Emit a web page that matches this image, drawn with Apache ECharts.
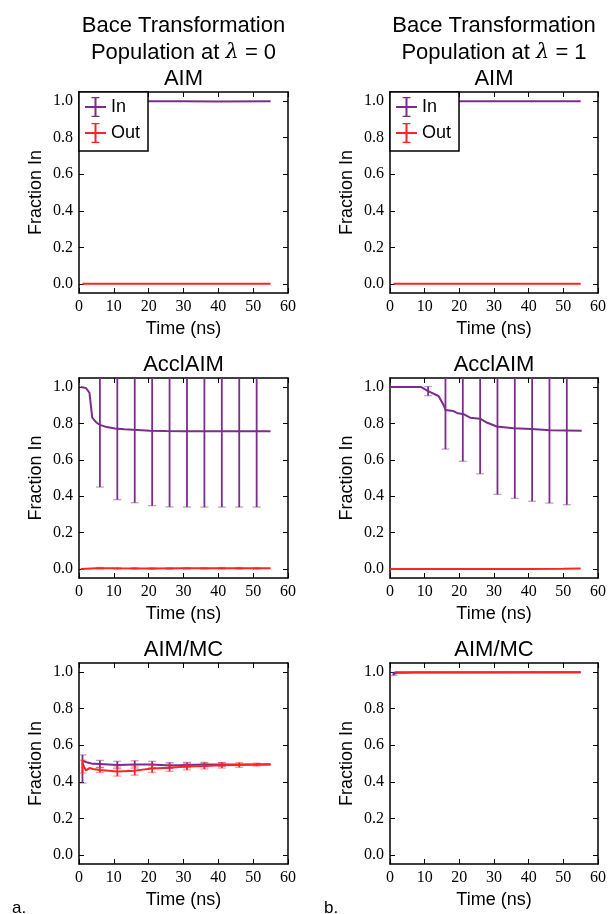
<!DOCTYPE html>
<html><head><meta charset="utf-8">
<script src="https://cdn.jsdelivr.net/npm/echarts@6/dist/echarts.min.js"></script>
<style>html,body{margin:0;padding:0;background:#fff}#c{width:610px;height:914px}</style>
</head><body><div id="c"></div>
<script>
// ---------------- data ----------------
const yTickValues = [0, 0.2, 0.4, 0.6, 0.8, 1.0];
const xTickInterval = 10;
const columnTitles = ['Population at {l|λ} = 0', 'Population at {l|λ} = 1'];
const panelTitles = ['AIM', 'AcclAIM', 'AIM/MC'];

// Row 1: AIM, lambda = 0
const aimL_in_t  = [1, 10, 20, 30, 40, 55];
const aimL_in_v  = [1.0, 1.0, 1.0, 0.999, 0.998, 0.999];
const aimL_out_t = [1, 10, 20, 30, 40, 55];
const aimL_out_v = [0, 0, 0, 0, 0, 0];
// Row 1: AIM, lambda = 1
const aimR_in_t  = [1, 10, 20, 30, 40, 55];
const aimR_in_v  = [1.0, 1.0, 0.999, 0.999, 1.0, 1.0];
const aimR_out_t = [1, 10, 20, 30, 40, 55];
const aimR_out_v = [0, 0, 0, 0, 0, 0];

// Row 2: AcclAIM, lambda = 0
const accL_in_t  = [0.5, 2, 3, 3.8, 5, 6, 8, 10.3, 13, 15.6, 20.4, 25, 30, 40, 55];
const accL_in_v  = [1.0, 0.995, 0.969, 0.832, 0.805, 0.792, 0.78, 0.772, 0.768, 0.765, 0.76, 0.758, 0.757, 0.757, 0.757];
const accL_in_et = [6, 11, 16, 21, 26, 31, 36, 41, 46, 51];
const accL_in_ec = [0.792, 0.772, 0.765, 0.76, 0.758, 0.757, 0.757, 0.757, 0.757, 0.757];
const accL_in_eh = [0.342, 0.391, 0.401, 0.412, 0.417, 0.417, 0.417, 0.417, 0.417, 0.417];
const accL_out_t = [0.5, 5, 10, 20, 30, 40, 55];
const accL_out_v = [0, 0.004, 0.003, 0.002, 0.003, 0.004, 0.003];
const accL_out_et = [6, 11, 16, 21, 26, 31, 36, 41, 46, 51];
const accL_out_ec = [0.004, 0.003, 0.003, 0.002, 0.002, 0.003, 0.003, 0.004, 0.004, 0.003];
const accL_out_eh = [0.004, 0.004, 0.004, 0.004, 0.004, 0.004, 0.004, 0.004, 0.004, 0.004];
// Row 2: AcclAIM, lambda = 1
const accR_in_t  = [0, 9, 11, 14, 15.5, 16, 18.3, 19.3, 21.2, 23.1, 26, 27.9, 30.8, 35.6, 40.9, 46.2, 55.3];
const accR_in_v  = [1.0, 1.0, 0.978, 0.951, 0.9, 0.874, 0.868, 0.858, 0.851, 0.832, 0.826, 0.805, 0.783, 0.774, 0.769, 0.763, 0.76];
const accR_in_et = [11, 16, 21, 26, 31, 36, 41, 46, 51];
const accR_in_ec = [0.978, 0.874, 0.851, 0.826, 0.783, 0.774, 0.769, 0.764, 0.762];
const accR_in_eh = [0.025, 0.215, 0.259, 0.303, 0.373, 0.386, 0.397, 0.402, 0.409];
const accR_out_t = [0, 10, 20, 30, 40, 50, 55];
const accR_out_v = [0, 0, 0, 0, 0, 0.001, 0.002];

// Row 3: AIM/MC, lambda = 0
const mcL_in_t  = [1, 1.5, 2.5, 4, 6, 11, 16, 21, 26, 31, 36, 41, 46, 51, 55];
const mcL_in_v  = [0.515, 0.51, 0.505, 0.498, 0.497, 0.492, 0.495, 0.494, 0.489, 0.492, 0.494, 0.494, 0.494, 0.494, 0.495];
const mcL_in_et = [1, 6, 11, 16, 21, 26, 31, 36, 41];
const mcL_in_ec = [0.47, 0.497, 0.492, 0.495, 0.494, 0.489, 0.492, 0.494, 0.494];
const mcL_in_eh = [0.077, 0.02, 0.02, 0.02, 0.018, 0.016, 0.014, 0.012, 0.01];
const mcL_out_t = [1, 1.5, 2, 3, 4, 6, 11, 16, 21, 26, 31, 36, 41, 46, 51, 55];
const mcL_out_v = [0.5, 0.48, 0.462, 0.475, 0.47, 0.465, 0.456, 0.461, 0.472, 0.477, 0.483, 0.486, 0.49, 0.492, 0.494, 0.496];
const mcL_out_et = [1, 6, 11, 16, 21, 26, 31, 36, 41, 46, 51];
const mcL_out_ec = [0.483, 0.465, 0.456, 0.461, 0.472, 0.477, 0.483, 0.486, 0.49, 0.492, 0.494];
const mcL_out_eh = [0.035, 0.014, 0.025, 0.025, 0.021, 0.02, 0.018, 0.016, 0.015, 0.013, 0.008];
// Row 3: AIM/MC, lambda = 1
const mcR_in_t  = [1, 2, 4, 7, 55];
const mcR_in_v  = [0.99, 0.996, 0.997, 0.998, 1.0];
const mcR_in_et = [1];
const mcR_in_ec = [0.99];
const mcR_in_eh = [0.008];
const mcR_out_t = [1.3, 10, 20, 30, 40, 55];
const mcR_out_v = [1.0, 1.0, 1.0, 1.0, 1.0, 1.0];

// ---------------- layout / style ----------------
const PURPLE = '#7B2D8C';
const RED = '#FF2424';
const SANS = 'Liberation Sans, Arial, sans-serif';
const SERIF = 'Liberation Serif, Times New Roman, serif';
const colLeft = [79, 390];
const colWidth = [209, 208];
const rowTop = [92, 378, 663];
const rowHeight = [201, 200, 201];

const panels = [
  {in: [aimL_in_t, aimL_in_v], out: [aimL_out_t, aimL_out_v]},
  {in: [aimR_in_t, aimR_in_v], out: [aimR_out_t, aimR_out_v]},
  {in: [accL_in_t, accL_in_v], inErr: [accL_in_et, accL_in_ec, accL_in_eh], out: [accL_out_t, accL_out_v], outErr: [accL_out_et, accL_out_ec, accL_out_eh]},
  {in: [accR_in_t, accR_in_v], inErr: [accR_in_et, accR_in_ec, accR_in_eh], out: [accR_out_t, accR_out_v]},
  {in: [mcL_in_t, mcL_in_v], inErr: [mcL_in_et, mcL_in_ec, mcL_in_eh], out: [mcL_out_t, mcL_out_v], outErr: [mcL_out_et, mcL_out_ec, mcL_out_eh]},
  {in: [mcR_in_t, mcR_in_v], inErr: [mcR_in_et, mcR_in_ec, mcR_in_eh], out: [mcR_out_t, mcR_out_v]}
];

const grids = [], xAxes = [], yAxes = [], series = [], graphics = [];
const tickStyle = {show: true, inside: true, length: 5, lineStyle: {color: '#000', width: 1}};
const axisLineStyle = {show: true, onZero: false, lineStyle: {color: '#000', width: 1.5}};

function errRender(color) {
  return function (params, api) {
    const x = api.value(0), c = api.value(1), h = api.value(2);
    const p0 = api.coord([x, c - h]);
    const p1 = api.coord([x, c + h]);
    const cw = 4;
    return {type: 'group', children: [
      {type: 'line', shape: {x1: p0[0], y1: p0[1], x2: p1[0], y2: p1[1]}, style: {stroke: color, lineWidth: 1.8}},
      {type: 'line', shape: {x1: p0[0] - cw, y1: p0[1], x2: p0[0] + cw, y2: p0[1]}, style: {stroke: color, lineWidth: 1.3, opacity: 0.45}},
      {type: 'line', shape: {x1: p1[0] - cw, y1: p1[1], x2: p1[0] + cw, y2: p1[1]}, style: {stroke: color, lineWidth: 1.3, opacity: 0.45}}
    ]};
  };
}

panels.forEach((p, gi) => {
  const col = gi % 2, row = Math.floor(gi / 2);
  grids.push({left: colLeft[col], top: rowTop[row], width: colWidth[col], height: rowHeight[row], show: false});
  xAxes.push({type: 'value', gridIndex: gi, position: 'bottom', min: 0, max: 60, interval: xTickInterval,
    axisLine: axisLineStyle, axisTick: tickStyle, splitLine: {show: false},
    axisLabel: {show: true, margin: 6, color: '#000', fontFamily: SERIF, fontSize: 16},
    name: 'Time (ns)', nameLocation: 'middle', nameGap: 27, nameTextStyle: {fontFamily: SANS, fontSize: 18, color: '#000'}});
  xAxes.push({type: 'value', gridIndex: gi, position: 'top', min: 0, max: 60, interval: xTickInterval,
    axisLine: axisLineStyle, axisTick: tickStyle, splitLine: {show: false}, axisLabel: {show: false}});
  yAxes.push({type: 'value', gridIndex: gi, position: 'left', min: -0.05, max: 1.05,
    axisLine: axisLineStyle, axisTick: Object.assign({customValues: yTickValues}, tickStyle), splitLine: {show: false},
    axisLabel: {show: true, customValues: yTickValues, margin: 6, color: '#000', fontFamily: SERIF, fontSize: 16, formatter: v => v.toFixed(1)},
    name: 'Fraction In', nameLocation: 'middle', nameGap: 34, nameRotate: 90, nameTextStyle: {fontFamily: SANS, fontSize: 18, color: '#000'}});
  yAxes.push({type: 'value', gridIndex: gi, position: 'right', min: -0.05, max: 1.05,
    axisLine: axisLineStyle, axisTick: Object.assign({customValues: yTickValues}, tickStyle), splitLine: {show: false},
    axisLabel: {show: false}});

  const xi = gi * 2, yi = gi * 2;
  const mkLine = (name, d, color) => ({type: 'line', name, xAxisIndex: xi, yAxisIndex: yi,
    data: d[0].map((t, i) => [t, d[1][i]]), symbol: 'none', showSymbol: false, clip: true,
    lineStyle: {color, width: 2}, itemStyle: {color}, z: 3, animation: false});
  const mkErr = (name, d, color) => ({type: 'custom', name, xAxisIndex: xi, yAxisIndex: yi, clip: true,
    data: d[0].map((t, i) => [t, d[1][i], d[2][i]]), encode: {x: 0, y: 1}, renderItem: errRender(color), z: 4, animation: false});
  series.push(mkLine('In', p.in, PURPLE));
  if (p.inErr) series.push(mkErr('In err', p.inErr, PURPLE));
  series.push(mkLine('Out', p.out, RED));
  if (p.outErr) series.push(mkErr('Out err', p.outErr, RED));

  const cx = colLeft[col] + colWidth[col] / 2;
  graphics.push({type: 'text', x: cx, y: rowTop[row] - 13, z: 20,
    style: {text: panelTitles[row], textAlign: 'center', textVerticalAlign: 'middle', font: '22px ' + SANS, fill: '#000'}});
});

[0, 1].forEach(col => {
  const cx = colLeft[col] + colWidth[col] / 2;
  graphics.push({type: 'text', x: cx, y: 26, style: {text: 'Bace Transformation', textAlign: 'center', textVerticalAlign: 'middle', font: '22px ' + SANS, fill: '#000'}});
  graphics.push({type: 'text', x: cx, y: 53, style: {text: columnTitles[col], textAlign: 'center', textVerticalAlign: 'middle', font: '22px ' + SANS, fill: '#000',
    rich: {l: {fontFamily: 'DejaVu Serif', fontStyle: 'italic', fontSize: 21, fill: '#000'}}}});
});
graphics.push({type: 'text', x: 12, y: 908, style: {text: 'a.', textVerticalAlign: 'middle', font: '17px ' + SANS, fill: '#000'}});
graphics.push({type: 'text', x: 324, y: 908, style: {text: 'b.', textVerticalAlign: 'middle', font: '17px ' + SANS, fill: '#000'}});

const ICON = 'path://M0,9h21v2h-21z M9.5,0h2v20h-2z M6.5,0h8v1.3h-8z M6.5,18.7h8v1.3h-8z';
const legendBase = (left) => ({
  left, top: 92, orient: 'vertical', selectedMode: false, z: 10,
  data: [{name: 'In', icon: ICON}, {name: 'Out', icon: ICON}],
  itemWidth: 21, itemHeight: 20, itemGap: 6, padding: [5, 8, 8, 6],
  borderColor: '#000', borderWidth: 1.5, borderRadius: 0, backgroundColor: '#fff',
  itemStyle: {borderWidth: 0},
  textStyle: {fontFamily: SANS, fontSize: 18, color: '#000'}
});

const chart = echarts.init(document.getElementById('c'), null, {renderer: 'canvas'});
chart.setOption({
  animation: false,
  backgroundColor: '#fff',
  grid: grids, xAxis: xAxes, yAxis: yAxes, series,
  legend: [legendBase(colLeft[0]), legendBase(colLeft[1])],
  graphic: graphics
});
</script></body></html>
